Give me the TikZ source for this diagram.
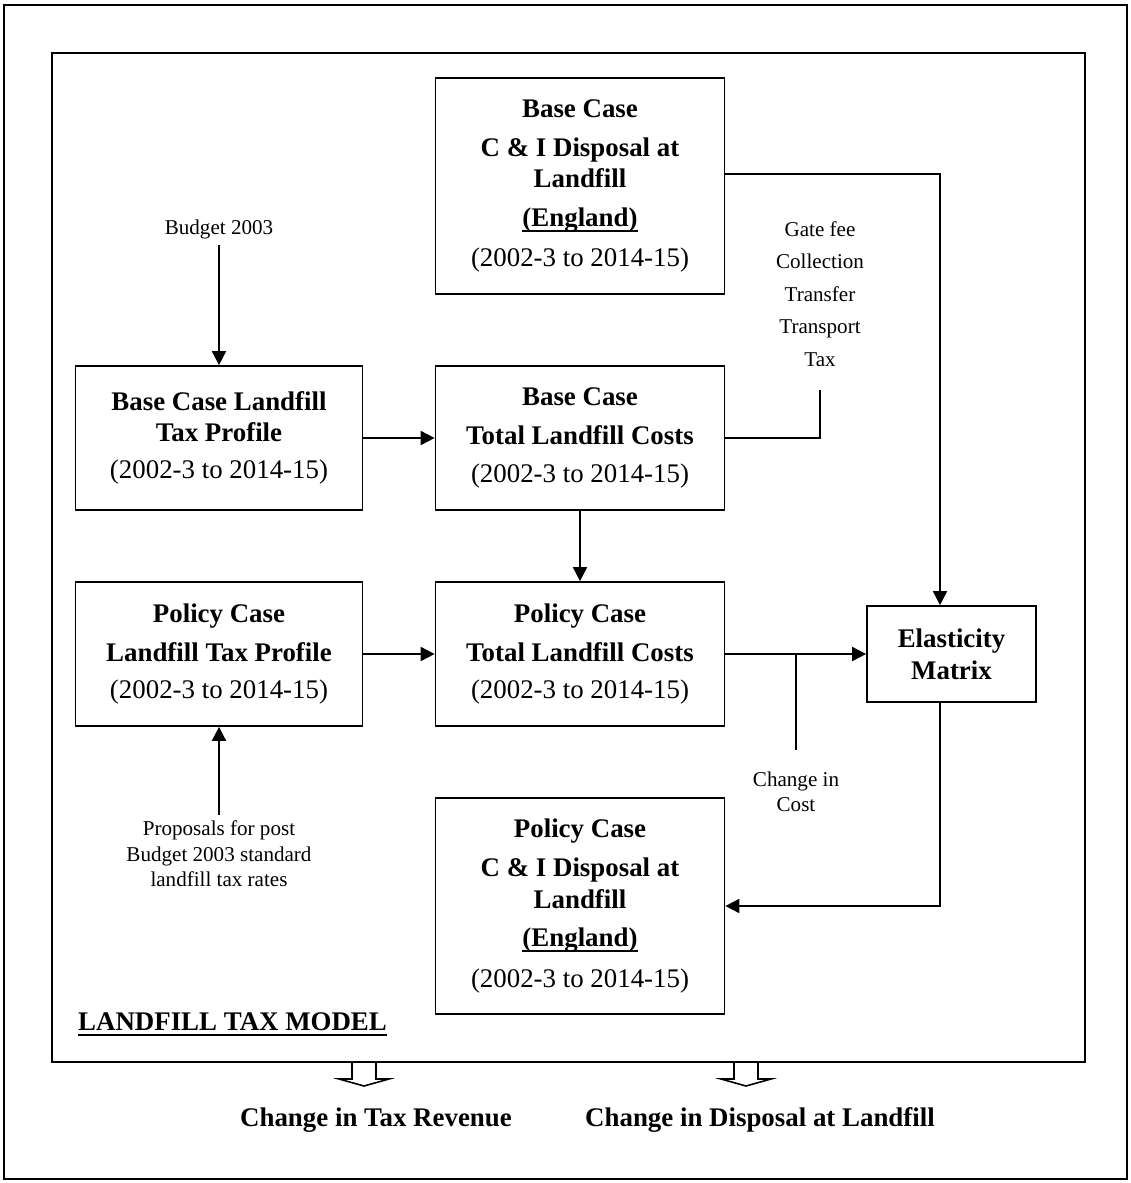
\documentclass[tikz,border=0pt]{standalone}
\usepackage{fontspec}
\setmainfont{Liberation Serif}
\usetikzlibrary{arrows.meta,positioning,calc}
\newcommand\ulbar[1]{\begingroup\setbox0\hbox{#1}\rlap{\vrule height -2pt depth 3.1pt width \wd0}\box0\endgroup}

\tikzset{
  modelbox/.style={draw,line width=1pt,minimum width=5.78cm,align=center,
    font=\fontsize{15.3}{18}\selectfont},
  tallbox/.style={modelbox,minimum height=4.32cm},
  shortbox/.style={modelbox,minimum height=2.88cm},
  note/.style={align=center,font=\fontsize{12}{14.5}\selectfont},
  outcome/.style={font=\fontsize{15.3}{18}\selectfont\bfseries},
  flow/.style={line width=1pt},
}

\begin{document}
\begin{tikzpicture}[x=0.02cm,y=-0.02cm,>={Triangle[length=8pt,width=8pt]}]
    \useasboundingbox (0,0) rectangle (1131,1183);
    \draw[line width=0.8pt] (4,5) rectangle (1127,1179);
    \draw[line width=1pt] (52,53) rectangle (1085,1062);
    % top row
    \node[tallbox] (bdisp) at (580,186) {\textbf{Base Case}\\[4pt]\textbf{C \& I Disposal at}\\\textbf{Landfill}\\[4pt]\ulbar{\textbf{(England)}}\\[5pt](2002-3 to 2014-15)};
    \node[note] (budget) at (219,229) {Budget 2003};
    \node[note,font=\fontsize{12}{18.5}\selectfont] (costs) at (820,294) {Gate fee\\Collection\\Transfer\\Transport\\Tax};
    % base case row
    \node[shortbox,minimum width=5.74cm] (btax) at (219,438) {\textbf{Base Case Landfill}\\\textbf{Tax Profile}\\[3pt](2002-3 to 2014-15)};
    \node[shortbox] (btot) at (580,438) {\textbf{Base Case}\\[4pt]\textbf{Total Landfill Costs}\\[4pt](2002-3 to 2014-15)};
    % policy case row
    \node[shortbox,minimum width=5.74cm] (ptax) at (219,654) {\textbf{Policy Case}\\[4pt]\textbf{Landfill Tax Profile}\\[3pt](2002-3 to 2014-15)};
    \node[shortbox] (ptot) at (580,654) {\textbf{Policy Case}\\[4pt]\textbf{Total Landfill Costs}\\[3pt](2002-3 to 2014-15)};
    \node[modelbox,minimum width=3.38cm,minimum height=1.92cm] (elast) at (951.5,654) {\textbf{Elasticity}\\\textbf{Matrix}};
    \node[note] (proposal) at (219,854) {Proposals for post\\Budget 2003 standard\\landfill tax rates};
    \node[note] (chcost) at (796,792) {Change in\\Cost};
    \node[tallbox] (pdisp) at (580,906) {\textbf{Policy Case}\\[4pt]\textbf{C \& I Disposal at}\\\textbf{Landfill}\\[4pt]\ulbar{\textbf{(England)}}\\[5pt](2002-3 to 2014-15)};
    \node[anchor=west,outcome] (model) at (72,1024) {\ulbar{LANDFILL TAX MODEL}};
    % outputs
    \node[outcome] (revenue) at (376,1120) {Change in Tax Revenue};
    \node[outcome] (disposal) at (760,1120) {Change in Disposal at Landfill};
    \coordinate (feeend) at (820,390);
    \coordinate (cjoin) at (796,654);
    \coordinate (cend) at (796,750);
    % connectors
    \draw[flow,->] (budget) -- (btax);
    \draw[flow,->] (proposal) -- (ptax);
    \draw[flow,->] (btax) -- (btot);
    \draw[flow,->] (ptax) -- (ptot);
    \draw[flow,->] (btot) -- (ptot);
    \draw[flow,->] (ptot) -- (elast);
    \draw[flow] (cjoin) -- (cend);
    \draw[flow] (btot.east) -| (feeend);
    \draw[flow,->] ([yshift=0.24cm]bdisp.east) -| ([xshift=-0.23cm]elast.north);
    \draw[flow,->] ([xshift=-0.23cm]elast.south) |- (pdisp.east);
    % hollow arrows out of the model
    \draw[line width=0.9pt] (352,1062) -- (352,1079) -- (339,1079) -- (364,1086) -- (389,1079) -- (376,1079) -- (376,1062);
    \draw[line width=0.9pt] (734,1062) -- (734,1079) -- (721,1079) -- (746,1086) -- (771,1079) -- (758,1079) -- (758,1062);
\end{tikzpicture}
\end{document}
